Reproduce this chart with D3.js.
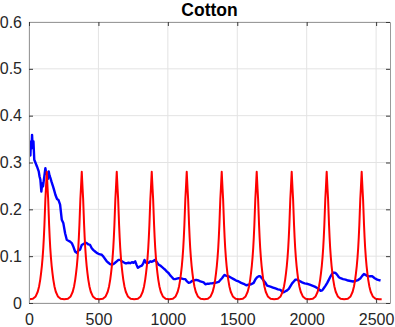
<!DOCTYPE html>
<html>
<head>
<meta charset="utf-8">
<script src="https://cdn.jsdelivr.net/npm/d3@7"></script>
<style>
  html, body { margin: 0; padding: 0; background: #fff; }
  svg text { font-family: "Liberation Sans", Helvetica, Arial, sans-serif; }
</style>
</head>
<body>
<svg id="chart" width="395" height="327"></svg>
<script>
const chartTitle = "Cotton";
const xTicks = [0, 500, 1000, 1500, 2000, 2500];
const yTicks = [0, 0.1, 0.2, 0.3, 0.4, 0.5, 0.6];

// blue series, [index, value]
const blueSeries = [
  [0, 0.325], [5, 0.334], [10, 0.315], [14, 0.345], [18, 0.33], [22, 0.359], [26, 0.335],
  [32, 0.345], [38, 0.306], [46, 0.3], [58, 0.291], [70, 0.281], [76, 0.27], [82, 0.263],
  [89, 0.238], [95, 0.255], [101, 0.249], [110, 0.27], [118, 0.288], [124, 0.276],
  [130, 0.274], [136, 0.265], [142, 0.281], [148, 0.272], [154, 0.267], [163, 0.258],
  [173, 0.249], [182, 0.24], [190, 0.231], [202, 0.222], [212, 0.22], [224, 0.21],
  [236, 0.178], [247, 0.171], [260, 0.149], [272, 0.135], [284, 0.133], [296, 0.131],
  [308, 0.128], [320, 0.12], [332, 0.11], [344, 0.107], [356, 0.112], [368, 0.114],
  [380, 0.124], [392, 0.126], [404, 0.128], [416, 0.128], [428, 0.125], [440, 0.124],
  [452, 0.117], [464, 0.113], [476, 0.11], [488, 0.107], [500, 0.105], [512, 0.104],
  [524, 0.103], [536, 0.099], [548, 0.094], [560, 0.089], [572, 0.086], [584, 0.083],
  [596, 0.082], [608, 0.083], [620, 0.086], [632, 0.089], [644, 0.092], [656, 0.092],
  [669, 0.089], [681, 0.087], [693, 0.085], [705, 0.085], [717, 0.086], [729, 0.085],
  [741, 0.087], [753, 0.086], [765, 0.089], [774, 0.082], [784, 0.075], [798, 0.078],
  [813, 0.08], [822, 0.084], [832, 0.092], [840, 0.087], [849, 0.085], [861, 0.086],
  [873, 0.089], [885, 0.088], [897, 0.09], [909, 0.092], [921, 0.087], [933, 0.082],
  [945, 0.08], [957, 0.077], [969, 0.074], [981, 0.071], [993, 0.067], [1005, 0.064],
  [1017, 0.059], [1030, 0.055], [1041, 0.051], [1053, 0.051], [1065, 0.052], [1078, 0.053],
  [1090, 0.053], [1102, 0.052], [1114, 0.051], [1126, 0.051], [1138, 0.046], [1150, 0.043],
  [1162, 0.044], [1174, 0.047], [1186, 0.048], [1198, 0.049], [1210, 0.049], [1222, 0.048],
  [1234, 0.046], [1246, 0.045], [1258, 0.044], [1270, 0.04], [1282, 0.041], [1294, 0.041],
  [1306, 0.042], [1318, 0.042], [1330, 0.043], [1342, 0.043], [1354, 0.044], [1366, 0.045],
  [1378, 0.049], [1390, 0.053], [1400, 0.057], [1409, 0.06], [1420, 0.058], [1438, 0.057],
  [1456, 0.054], [1474, 0.051], [1492, 0.048], [1510, 0.046], [1528, 0.043], [1546, 0.041],
  [1564, 0.038], [1582, 0.039], [1600, 0.04], [1618, 0.043], [1630, 0.05], [1643, 0.055],
  [1655, 0.057], [1665, 0.057], [1680, 0.052], [1692, 0.047], [1703, 0.043], [1715, 0.037],
  [1727, 0.036], [1739, 0.035], [1757, 0.033], [1775, 0.031], [1793, 0.029], [1811, 0.028],
  [1823, 0.024], [1835, 0.023], [1847, 0.025], [1859, 0.027], [1871, 0.03], [1883, 0.036],
  [1895, 0.042], [1907, 0.046], [1919, 0.05], [1931, 0.05], [1949, 0.047], [1967, 0.044],
  [1985, 0.042], [2004, 0.041], [2022, 0.039], [2040, 0.037], [2058, 0.035], [2076, 0.032],
  [2090, 0.029], [2100, 0.026], [2112, 0.027], [2124, 0.032], [2136, 0.037], [2148, 0.043],
  [2160, 0.05], [2172, 0.057], [2184, 0.063], [2196, 0.065], [2208, 0.064], [2220, 0.06],
  [2232, 0.055], [2244, 0.053], [2262, 0.051], [2280, 0.05], [2298, 0.048], [2316, 0.047],
  [2334, 0.046], [2352, 0.047], [2370, 0.049], [2388, 0.053], [2400, 0.058], [2412, 0.062],
  [2424, 0.06], [2436, 0.058], [2454, 0.057], [2472, 0.057], [2490, 0.053], [2508, 0.05],
  [2520, 0.049], [2532, 0.048]
];

// red series: peak centres and the shape of one peak (offset from centre, value)
const redPeakX = [128, 380, 632, 884, 1136, 1388, 1640, 1892, 2144, 2396];
const redPeakOffset = [0, 3, 6, 10, 14, 17, 21, 25, 30, 35, 41, 47, 55, 65, 80, 100, 126];
const redPeakValue = [0.28, 0.262, 0.244, 0.222, 0.19, 0.166, 0.14, 0.118, 0.097, 0.08,
  0.064, 0.05, 0.036, 0.024, 0.014, 0.009, 0.008];
const redEnds = [[0, 0.008], [2540, 0.008]];

const width = 395, height = 327;
const margin = { top: 22, right: 5, bottom: 24, left: 29 };
const x0 = margin.left, x1 = width - margin.right;
const y0 = height - margin.bottom, y1 = margin.top;

const svg = d3.select("#chart");

const xScale = d3.scaleLinear().domain([0, 2600]).range([x0, x1]);
const yScale = d3.scaleLinear().domain([0, 0.6]).range([y0, y1]);

// grid
svg.append("g")
  .selectAll("line")
  .data(xTicks)
  .enter()
  .append("line")
  .attr("x1", d => xScale(d)).attr("x2", d => xScale(d))
  .attr("y1", y1).attr("y2", y0)
  .attr("stroke", "#e3e3e3");

svg.append("g")
  .selectAll("line")
  .data(yTicks)
  .enter()
  .append("line")
  .attr("x1", x0).attr("x2", x1)
  .attr("y1", d => yScale(d)).attr("y2", d => yScale(d))
  .attr("stroke", "#e3e3e3");

// red line built from the peak shape
const redPoints = [redEnds[0]];
redPeakX.forEach(c => {
  for (let i = redPeakOffset.length - 1; i > 0; i--) {
    redPoints.push([c - redPeakOffset[i], redPeakValue[i]]);
  }
  for (let i = 0; i < redPeakOffset.length; i++) {
    redPoints.push([c + redPeakOffset[i], redPeakValue[i]]);
  }
});
redPoints.push(redEnds[1]);

svg.append("clipPath").attr("id", "plot-clip")
  .append("rect")
  .attr("x", x0).attr("y", y1)
  .attr("width", x1 - x0).attr("height", y0 - y1);

const line = d3.line()
  .x(d => xScale(d[0]))
  .y(d => yScale(d[1]));

const plot = svg.append("g").attr("clip-path", "url(#plot-clip)");

plot.append("path")
  .datum(blueSeries)
  .attr("d", line)
  .attr("fill", "none")
  .attr("stroke", "#0000ff")
  .attr("stroke-width", 2.4)
  .attr("stroke-linejoin", "round");

plot.append("path")
  .datum(redPoints)
  .attr("d", line)
  .attr("fill", "none")
  .attr("stroke", "#ff0000")
  .attr("stroke-width", 2)
  .attr("stroke-linejoin", "round");

// axes, ticks pointing inward like matlab
const axisColor = "#9a9a9a";
const tickColor = "#3a3a3a";

function styleAxis(g) {
  g.select(".domain").attr("stroke", axisColor);
  g.selectAll(".tick line").attr("stroke", tickColor);
  g.selectAll("text")
    .attr("fill", "#262626")
    .style("font-size", "16px");
}

svg.append("g")
  .attr("transform", `translate(0, ${y0})`)
  .call(d3.axisBottom(xScale).tickValues(xTicks).tickSize(-4).tickSizeOuter(0).tickPadding(11)
    .tickFormat(d3.format("d")))
  .call(styleAxis);

svg.append("g")
  .attr("transform", `translate(${x0}, 0)`)
  .call(d3.axisLeft(yScale).tickValues(yTicks).tickSize(-4).tickSizeOuter(0).tickPadding(7)
    .tickFormat(d => d === 0 ? "0" : d3.format(".1f")(d)))
  .call(styleAxis);

svg.append("g")
  .attr("transform", `translate(0, ${y1})`)
  .call(d3.axisTop(xScale).tickValues(xTicks).tickSize(-4).tickSizeOuter(0).tickFormat(""))
  .call(styleAxis);

svg.append("g")
  .attr("transform", `translate(${x1}, 0)`)
  .call(d3.axisRight(yScale).tickValues(yTicks).tickSize(-4).tickSizeOuter(0).tickFormat(""))
  .call(styleAxis);

svg.append("text")
  .attr("x", (x0 + x1) / 2)
  .attr("y", 16)
  .attr("text-anchor", "middle")
  .style("font-size", "17.5px")
  .style("font-weight", "bold")
  .attr("fill", "#000")
  .text(chartTitle);
</script>
</body>
</html>
